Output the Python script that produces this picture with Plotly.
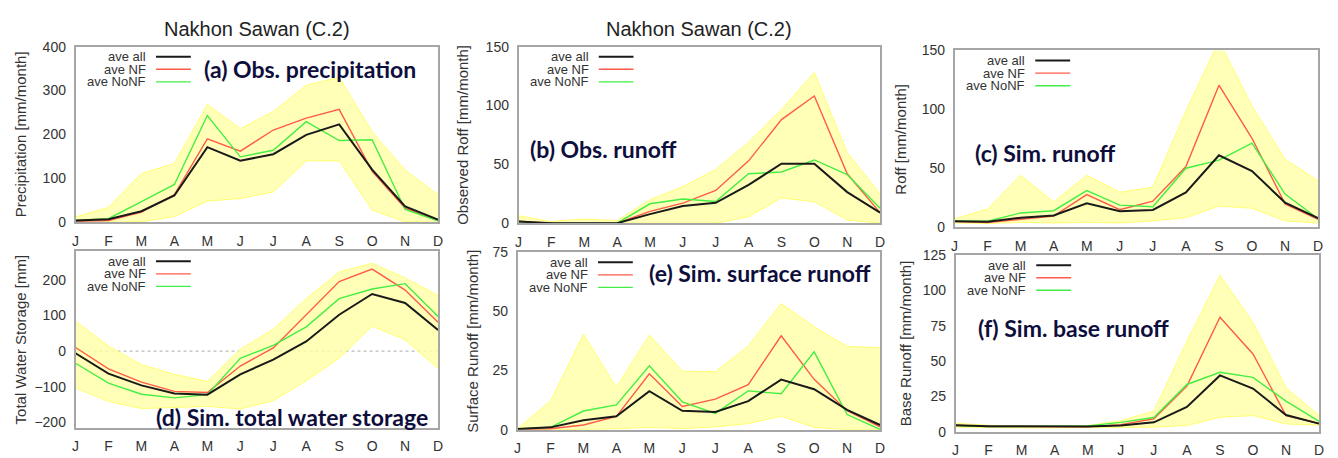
import plotly.graph_objects as go

W, H = 1338, 458
months = ["J", "F", "M", "A", "M", "J", "J", "A", "S", "O", "N", "D"]
month_idx = list(range(1, 13))

# (a) Obs. precipitation [mm/month]
prec_all = [4, 7, 25, 61, 171, 140, 155, 199, 223, 120, 36, 6]
prec_nf = [2, 4, 23, 63, 190, 162, 210, 237, 257, 116, 32, 4]
prec_nonf = [4, 8, 47, 86, 243, 149, 164, 229, 186, 188, 29, 3]
prec_hi = [12, 34, 111, 134, 268, 213, 252, 312, 330, 206, 119, 62]
prec_lo = [0, 0, 1, 13, 48, 54, 69, 140, 140, 28, 1, 0]

# (b) Obs. runoff [mm/month]
oroff_all = [1.4, 0, 0, 0, 7.7, 14.6, 17.3, 32.5, 50.6, 50.6, 26.4, 9]
oroff_nf = [1.6, 0, 0, 0, 10, 17, 27.8, 53, 88, 108, 42, 9]
oroff_nonf = [0, 0, 0.3, 0, 16.5, 20.6, 18.4, 42, 43.5, 53.7, 41.3, 12.7]
oroff_hi = [6.3, 1.4, 3.6, 2.2, 20, 31, 45.7, 68.8, 96.6, 128, 60, 24.8]
oroff_lo = [0, 0, 0, 0, 0, 0, 0, 5.5, 21.5, 18.2, 2.8, 0]

# (c) Sim. runoff [mm/month]
sroff_all = [4.9, 4.6, 8, 9.8, 20.2, 13.4, 14.5, 29.5, 61, 47.5, 20.8, 7.6]
sroff_nf = [4.6, 3.8, 6.6, 9.3, 27.6, 14.8, 22, 51.4, 120.5, 75.4, 19.7, 6.6]
sroff_nonf = [5.2, 4.9, 12, 13.9, 31, 18.6, 17.2, 50, 56.8, 71.3, 28, 7.1]
sroff_hi = [7, 15.3, 44, 21.3, 44, 29.5, 33.9, 98.6, 158, 102.7, 57.6, 39.3]
sroff_lo = [3.5, 3, 4, 3.5, 4, 3.5, 5.2, 8, 17.8, 16, 5.2, 3.5]

# (d) Sim. total water storage [mm]
tws_all = [-6, -63, -96, -119, -122, -65, -24, 27, 102, 160, 135, 59]
tws_nf = [10, -50, -87, -113, -116, -42, 9, 102, 195, 230, 171, 81]
tws_nonf = [-34, -90, -121, -131, -122, -20, 16, 68, 147, 174, 189, 97]
tws_hi = [84, 14, -38, -65, -85, 5, 61, 147, 222, 246, 205, 156]
tws_lo = [-103, -141, -161, -159, -155, -162, -139, -83, -20, 70, 32, -49]

# (e) Sim. surface runoff [mm/month]
surf_all = [0.3, 1, 4, 5.7, 16.3, 8, 7.5, 12.1, 21.2, 17.1, 8.4, 2]
surf_nf = [0.1, 0.4, 2, 5.6, 23.6, 9.8, 12.9, 19, 39.7, 21.3, 8, 1.2]
surf_nonf = [0.3, 1, 7.9, 10.5, 27, 11.8, 6.9, 16.4, 15.2, 32.9, 6.4, 0.1]
surf_hi = [0.5, 12.1, 40.4, 17.9, 40, 24.7, 24.5, 35.3, 53.3, 43.5, 35.2, 34.6]
surf_lo = [0, 0, 0.1, 0.4, 1, 0.5, 1.2, 2.6, 5.7, 1, 0, 0]

# (f) Sim. base runoff [mm/month]
base_all = [4.5, 3.9, 3.9, 3.6, 3.6, 4.3, 6.6, 17.5, 39.8, 30.5, 11.8, 5.7]
base_nf = [4.5, 3.6, 3.6, 3.4, 3.4, 5, 9.1, 32.3, 81, 55, 11.4, 5.7]
base_nonf = [4.3, 3.6, 3.6, 3.6, 4.1, 6.6, 10, 33.4, 42, 38.4, 21.6, 7.3]
base_hi = [5.9, 4.5, 4.1, 3.9, 4.3, 7.7, 14.5, 64, 110.7, 77.3, 31.1, 11.4]
base_lo = [3.2, 2.7, 2.7, 2.7, 2.7, 2.7, 3.2, 4.3, 10.2, 11.4, 5.5, 4.5]

legend_names = ["ave all", "ave NF", "ave NoNF"]
station_title = "Nakhon Sawan (C.2)"

panels = [
    dict(data=(prec_all, prec_nf, prec_nonf, prec_hi, prec_lo), px=(72, 437), py=(40, 222),
         yr=[0, 400], tv=[0, 100, 200, 300, 400], ytitle="Precipitation [mm/month]", ytx=17,
         label="(a) Obs. precipitation", lx=0.348, ly=0.875, title=True),
    dict(data=(oroff_all, oroff_nf, oroff_nonf, oroff_hi, oroff_lo), px=(518, 882), py=(40, 223),
         yr=[0, 150], tv=[0, 50, 100, 150], ytitle="Observed Roff [mm/month]", ytx=462,
         label="(b) Obs. runoff", lx=0.025, ly=0.422, title=True),
    dict(data=(sroff_all, sroff_nf, sroff_nonf, sroff_hi, sroff_lo), px=(957, 1323), py=(44, 227),
         yr=[0, 150], tv=[0, 50, 100, 150], ytitle="Roff [mm/month]", ytx=903,
         label="(c) Sim. runoff", lx=0.052, ly=0.417, title=False),
    dict(data=(tws_all, tws_nf, tws_nonf, tws_hi, tws_lo), px=(72, 437), py=(252, 435),
         yr=[-215, 280], tv=[-200, -100, 0, 100, 200], ytitle="Total Water Storage [mm]", ytx=17,
         label="(d) Sim. total water storage", lx=0.216, ly=0.06, title=False, zero=True),
    dict(data=(surf_all, surf_nf, surf_nonf, surf_hi, surf_lo), px=(517, 882), py=(253, 437),
         yr=[0, 75], tv=[0, 25, 50, 75], ytitle="Surface Runoff [mm/month]", ytx=472,
         label="(e) Sim. surface runoff", lx=0.356, ly=0.88, title=False),
    dict(data=(base_all, base_nf, base_nonf, base_hi, base_lo), px=(958, 1324), py=(256, 439),
         yr=[0, 125], tv=[0, 25, 50, 75, 100, 125], ytitle="Base Runoff [mm/month]", ytx=907,
         label="(f) Sim. base runoff", lx=0.055, ly=0.589, title=False),
]

line_colors = ["#1a1a1a", "#ff5a4a", "#44ee44"]
line_widths = [2, 1.4, 1.4]
band_line = "#ffff70"
band_fill = "rgba(255,255,165,0.8)"
border = "#a6a6a6"
txt = "#333333"
tick_font = dict(family="Liberation Sans, Arial, sans-serif", size=14, color=txt)

fig = go.Figure()
annotations = []
shapes = []

for i, p in enumerate(panels):
    n = i + 1
    xa = "x" if n == 1 else f"x{n}"
    ya = "y" if n == 1 else f"y{n}"
    xkey = "xaxis" if n == 1 else f"xaxis{n}"
    ykey = "yaxis" if n == 1 else f"yaxis{n}"
    v_all, v_nf, v_nonf, v_hi, v_lo = p["data"]

    fig.add_trace(go.Scatter(x=month_idx, y=v_hi, mode="lines", line=dict(color=band_line, width=1),
                             xaxis=xa, yaxis=ya, showlegend=False, hoverinfo="skip"))
    fig.add_trace(go.Scatter(x=month_idx, y=v_lo, mode="lines", line=dict(color=band_line, width=1),
                             fill="tonexty", fillcolor=band_fill,
                             xaxis=xa, yaxis=ya, showlegend=False, hoverinfo="skip"))
    for vals, name, c, w in [(v_nf, legend_names[1], line_colors[1], line_widths[1]),
                             (v_nonf, legend_names[2], line_colors[2], line_widths[2]),
                             (v_all, legend_names[0], line_colors[0], line_widths[0])]:
        fig.add_trace(go.Scatter(x=month_idx, y=vals, mode="lines", name=name,
                                 line=dict(color=c, width=w), xaxis=xa, yaxis=ya, showlegend=False))

    x0, x1 = p["px"][0] / W, p["px"][1] / W
    y0, y1 = 1 - p["py"][1] / H, 1 - p["py"][0] / H
    fig.layout[xkey] = dict(domain=[x0, x1], anchor=ya, range=[1, 12], tickvals=month_idx,
                            ticktext=months, showgrid=False, zeroline=False, showline=True,
                            linecolor=border, linewidth=1.5, mirror=True, ticks="",
                            tickfont=tick_font, ticklabelstandoff=5, fixedrange=True)
    fig.layout[ykey] = dict(domain=[y0, y1], anchor=xa, range=p["yr"], tickvals=p["tv"],
                            showgrid=False, zeroline=False, showline=True,
                            linecolor=border, linewidth=1.5, mirror=True, ticks="",
                            tickfont=tick_font, ticklabelstandoff=5, fixedrange=True)

    if p.get("zero"):
        shapes.append(dict(type="line", xref=f"{xa} domain", yref=ya, x0=0, x1=1, y0=0, y1=0,
                           line=dict(color="#aaaaaa", width=1, dash="dot"), layer="below"))

    # y-axis title
    annotations.append(dict(text=p["ytitle"], xref="paper", yref="paper",
                            x=p["ytx"] / W, y=(y0 + y1) / 2, textangle=-90,
                            showarrow=False, xanchor="center", yanchor="middle",
                            font=dict(family="Liberation Sans, Arial, sans-serif", size=15, color=txt)))
    # panel label
    annotations.append(dict(text="<b>" + p["label"] + "</b>", xref=f"{xa} domain", yref=f"{ya} domain",
                            x=p["lx"], y=p["ly"], showarrow=False, xanchor="left", yanchor="middle",
                            font=dict(family="Lato, Noto Sans, sans-serif", size=23, color="#0e0e3c")))
    # station title
    if p["title"]:
        annotations.append(dict(text=station_title, xref="paper", yref="paper",
                                x=(x0 + x1) / 2, y=1 - 21.7 / H, showarrow=False,
                                xanchor="center", yanchor="middle",
                                font=dict(family="Liberation Sans, Arial, sans-serif", size=20, color="#222222")))
    # legend (gnuplot style: text right-aligned, sample line to the right)
    ph = p["py"][1] - p["py"][0]
    for k, off in enumerate([10.5, 23.5, 36.5]):
        yy = 1 - off / ph
        annotations.append(dict(text=legend_names[k], xref=f"{xa} domain", yref=f"{ya} domain",
                                x=0.2, y=yy, showarrow=False, xanchor="right", yanchor="middle",
                                font=dict(family="Liberation Sans, Arial, sans-serif", size=13, color=txt)))
        shapes.append(dict(type="line", xref=f"{xa} domain", yref=f"{ya} domain",
                           x0=0.222, x1=0.318, y0=yy, y1=yy,
                           line=dict(color=line_colors[k], width=line_widths[k])))

fig.update_layout(width=W, height=H, margin=dict(l=0, r=0, t=0, b=0),
                  paper_bgcolor="white", plot_bgcolor="white",
                  annotations=annotations, shapes=shapes, showlegend=False)

fig.write_html("out.html", config={"displayModeBar": False},
               post_script="document.body.style.margin='0';document.body.style.overflow='hidden';")
